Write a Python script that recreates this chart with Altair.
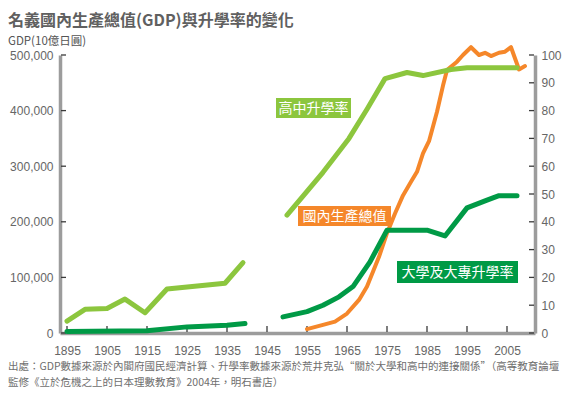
import altair as alt
import pandas as pd

# ---------------- data ----------------
title_text = "名義國內生產總值(GDP)與升學率的變化"
left_unit = "GDP(10億日圓)"
footer_lines = [
    "出處：GDP數據來源於內閣府國民經濟計算、升學率數據來源於荒井克弘“關於大學和高中的連接關係”（高等教育論壇",
    "監修《立於危機之上的日本理數教育》2004年，明石書店）",
]

year_ticks = [1895, 1905, 1915, 1925, 1935, 1945, 1955, 1965, 1975, 1985, 1995, 2005]
gdp_ticks = [0, 100000, 200000, 300000, 400000, 500000]
rate_ticks = [0, 10, 20, 30, 40, 50, 60, 70, 80, 90, 100]

# GDP (10億日圓)
gdp_years = [1955, 1959, 1962, 1965, 1968, 1970, 1973, 1975, 1977, 1979, 1981, 1982.5,
             1984, 1985.5, 1987.5, 1989, 1990, 1992.5, 1994, 1996, 1998, 1999.5,
             2001, 2003, 2004.5, 2006, 2008, 2009.5]
gdp_values = [7000, 14500, 20500, 35000, 59500, 83500, 137000, 179500, 215000, 247500,
              272000, 290000, 323000, 345000, 398000, 445000, 473000, 488000, 500000,
              514000, 500000, 504000, 498000, 504000, 506000, 514000, 474000, 480000]

# 高中升學率 (%)
hs_pre_years = [1895, 1899.5, 1905, 1909.5, 1914.5, 1920, 1934.5, 1939]
hs_pre_values = [4.3, 8.5, 8.8, 12.2, 7.3, 15.8, 17.9, 25.3]
hs_post_years = [1950, 1959, 1965.5, 1970, 1974.5, 1980, 1984, 1991, 1995, 2007.5]
hs_post_values = [42.4, 57.8, 70.0, 80.5, 91.5, 93.7, 92.6, 94.8, 95.4, 95.4]

# 大學及大專升學率 (%)
un_pre_years = [1895, 1915, 1925, 1935, 1939.5]
un_pre_values = [0.5, 0.8, 2.2, 2.8, 3.4]
un_post_years = [1949, 1955, 1959, 1963, 1966.5, 1970.75, 1975, 1985, 1989.5, 1995, 2000, 2003, 2007.5]
un_post_values = [5.8, 7.7, 10.0, 13.0, 16.7, 25.6, 37.0, 37.0, 34.9, 45.0, 47.8, 49.4, 49.4]

series_labels = ["高中升學率", "國內生產總值", "大學及大專升學率"]

# ---------------- styles ----------------
ORANGE = "#f5872a"
LGREEN = "#8cc63e"
DGREEN = "#009a46"
AXIS_GRAY = "#9c9c9c"
TICK = "#3a3a3a"
LABEL = "#666666"
CJK = "Noto Sans CJK TC"
LAT = "Liberation Sans"

W, H = 475, 278

gdp_df = pd.DataFrame({"year": gdp_years, "gdp": gdp_values})


def seg(years, values, series, part):
    return pd.DataFrame({"year": years, "rate": values, "series": series, "seg": part})


rate_df = pd.concat([
    seg(hs_pre_years, hs_pre_values, "hs", "hs_pre"),
    seg(hs_post_years, hs_post_values, "hs", "hs_post"),
    seg(un_pre_years, un_pre_values, "un", "un_pre"),
    seg(un_post_years, un_post_values, "un", "un_post"),
], ignore_index=True)

x_scale = alt.Scale(domain=[1893.25, 2012], nice=False, zero=False)
gdp_scale = alt.Scale(domain=[0, 500000], nice=False)
rate_scale = alt.Scale(domain=[0, 100], nice=False)

x_axis = alt.Axis(values=year_ticks, format="d", title=None, grid=False, ticks=False,
                  domainColor=AXIS_GRAY, domainWidth=3.5, labelColor=LABEL,
                  labelFontSize=12, labelFont=LAT, labelPadding=12)
gdp_axis = alt.Axis(orient="left", values=gdp_ticks, format=",d", title=None, grid=False,
                    ticks=False, domainColor=AXIS_GRAY, domainWidth=3.5, labelColor=LABEL,
                    labelFontSize=12, labelFont=LAT, labelPadding=7)
rate_axis = alt.Axis(orient="right", values=rate_ticks, format="d", title=None, grid=False,
                     ticks=False, domainColor=AXIS_GRAY, domainWidth=3.5, labelColor=LABEL,
                     labelFontSize=12, labelFont=LAT, labelPadding=6)

X = alt.X("year:Q", scale=x_scale, axis=x_axis)

gdp_line = alt.Chart(gdp_df).mark_line(
    color=ORANGE, strokeWidth=4, strokeCap="round", strokeJoin="round"
).encode(x=X, y=alt.Y("gdp:Q", scale=gdp_scale, axis=gdp_axis))

left_ticks = alt.Chart(pd.DataFrame({"gdp": gdp_ticks})).mark_rule(
    color=TICK, strokeWidth=1.3
).encode(x=alt.value(1), x2=alt.value(6), y=alt.Y("gdp:Q", scale=gdp_scale, axis=gdp_axis))

bottom_ticks = alt.Chart(pd.DataFrame({"year": year_ticks})).mark_rule(
    color=TICK, strokeWidth=1.3
).encode(x=X, y=alt.value(H - 1), y2=alt.value(H - 7))

gdp_group = alt.layer(bottom_ticks, gdp_line, left_ticks)

rate_lines = alt.Chart(rate_df).mark_line(
    strokeWidth=5, strokeCap="round", strokeJoin="round"
).encode(
    x=X,
    y=alt.Y("rate:Q", scale=rate_scale, axis=rate_axis),
    color=alt.Color("series:N", scale=alt.Scale(domain=["hs", "un"], range=[LGREEN, DGREEN]), legend=None),
    detail="seg:N",
)

right_ticks = alt.Chart(pd.DataFrame({"rate": rate_ticks})).mark_rule(
    color=TICK, strokeWidth=1.3
).encode(x=alt.value(W - 1), x2=alt.value(W - 6), y=alt.Y("rate:Q", scale=rate_scale, axis=rate_axis))

rate_group = alt.layer(rate_lines, right_ticks)

# ---------------- label boxes ----------------
box_df = pd.DataFrame({
    "label": series_labels,
    "x": [216, 238, 337],
    "x2": [291, 331, 458],
    "y": [43, 151, 206],
    "y2": [63, 171, 228],
    "fill": [LGREEN, ORANGE, DGREEN],
})
box_df["cx"] = (box_df["x"] + box_df["x2"]) / 2
box_df["cy"] = (box_df["y"] + box_df["y2"]) / 2

annos = []
for _, r in box_df.iterrows():
    one = pd.DataFrame([r])
    annos.append(alt.Chart(one).mark_rect(color=r["fill"]).encode(
        x=alt.value(r["x"]), x2=alt.value(r["x2"]), y=alt.value(r["y"]), y2=alt.value(r["y2"])))
    annos.append(alt.Chart(one).mark_text(
        color="white", font=CJK, fontSize=14, align="center", baseline="middle"
    ).encode(x=alt.value(r["cx"]), y=alt.value(r["cy"] + 0.5), text="label:N"))

title_mark = alt.Chart(pd.DataFrame({"t": [title_text]})).mark_text(
    font=CJK, fontSize=16, fontWeight="bold", color="#606060", align="left", baseline="middle"
).encode(x=alt.value(-52), y=alt.value(-34), text="t:N")

unit_mark = alt.Chart(pd.DataFrame({"t": [left_unit]})).mark_text(
    font=CJK, fontSize=11.5, color="#555555", align="left", baseline="middle"
).encode(x=alt.value(-52), y=alt.value(-13), text="t:N")

footer_marks = []
for i, line in enumerate(footer_lines):
    footer_marks.append(alt.Chart(pd.DataFrame({"t": [line]})).mark_text(
        font=CJK, fontSize=10.5, color="#6e6e6e", align="left", baseline="middle"
    ).encode(x=alt.value(-52), y=alt.value(312 + 16 * i), text="t:N"))

chart = alt.layer(
    gdp_group, rate_group, *annos, title_mark, unit_mark, *footer_marks
).resolve_scale(y="independent").properties(
    width=W, height=H,
    padding={"left": 52, "top": 47, "right": 35, "bottom": 55},
    autosize=alt.AutoSizeParams(type="none"),
    background="white",
).configure_view(stroke=None)

chart.save("out.html", embed_options={"renderer": "svg", "actions": False})
